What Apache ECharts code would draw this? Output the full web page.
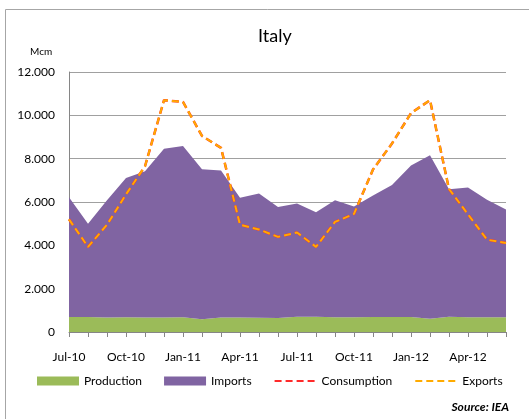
<!DOCTYPE html>
<html>
<head>
<meta charset="utf-8">
<script src="https://cdn.jsdelivr.net/npm/echarts@6/dist/echarts.min.js"></script>
<style>
html, body { margin: 0; padding: 0; background: #fff; }
#main { width: 529px; height: 419px; }
</style>
</head>
<body>
<div id="main"></div>
<script>
var months = ['Jul-10','Aug-10','Sep-10','Oct-10','Nov-10','Dec-10','Jan-11','Feb-11','Mar-11','Apr-11','May-11','Jun-11',
              'Jul-11','Aug-11','Sep-11','Oct-11','Nov-11','Dec-11','Jan-12','Feb-12','Mar-12','Apr-12','May-12','Jun-12'];

var production = [690, 690, 670, 680, 670, 670, 680, 590, 670, 670, 660, 650,
                  700, 700, 680, 680, 690, 690, 690, 610, 700, 680, 680, 680];

var imports = [5530, 4310, 5410, 6430, 6750, 7790, 7910, 6920, 6780, 5530, 5730, 5120,
               5230, 4830, 5400, 5110, 5610, 6100, 7000, 7550, 5890, 5990, 5420, 4970];

var consumption = [5200, 3930, 4950, 6350, 7650, 10700, 10620, 9050, 8500, 4950, 4730, 4390,
                   4590, 3930, 5080, 5450, 7500, 8700, 10100, 10700, 6600, 5430, 4260, 4110];

var exports = [5200, 3930, 4950, 6350, 7650, 10700, 10620, 9050, 8500, 4950, 4730, 4390,
               4590, 3930, 5080, 5450, 7500, 8700, 10100, 10700, 6600, 5430, 4260, 4110];

var font = 'Lato';

var myChart = echarts.init(document.getElementById('main'));

// y labels use a dot as thousands separator: 12.000
function fmtThousands(v) {
    if (v === 0) return '0';
    return (v / 1000).toFixed(3);
}

var option = {
    animation: false,
    textStyle: { fontFamily: font },
    title: {
        text: 'Italy',
        left: 253,
        top: 22,
        textStyle: { fontFamily: font, fontSize: 18, fontWeight: 'normal', color: '#000' }
    },
    graphic: [
        {
            type: 'rect',
            shape: { x: 5.5, y: 9.5, width: 620, height: 520 },
            style: { fill: null, stroke: '#a6a6a6', lineWidth: 1 },
            silent: true
        },
        {
            type: 'text',
            left: 30,
            top: 47,
            style: { text: 'Mcm', fontFamily: font, fontSize: 10, fill: '#000' }
        },
        {
            type: 'text',
            right: 20,
            top: 401,
            style: { text: 'Source: IEA', fontFamily: font, fontSize: 12, fontWeight: 'bold', fontStyle: 'italic', fill: '#000' }
        }
    ],
    legend: {
        left: 32,
        top: 370,
        itemWidth: 42,
        itemHeight: 9,
        itemGap: 22,
        textStyle: { fontFamily: font, fontSize: 12, color: '#000' },
        data: [
            { name: 'Production', icon: 'rect' },
            { name: 'Imports', icon: 'rect' },
            { name: 'Consumption', itemStyle: { opacity: 0 } },
            { name: 'Exports', itemStyle: { opacity: 0 } }
        ]
    },
    grid: { left: 69, right: 23, top: 72, bottom: 87 },
    xAxis: {
        type: 'category',
        data: months,
        boundaryGap: false,
        axisLine: { lineStyle: { color: '#868686', width: 1 } },
        axisTick: { show: true, interval: 0, length: 5, lineStyle: { color: '#868686' } },
        axisLabel: { interval: 2, margin: 19, fontFamily: font, fontSize: 12, color: '#000' },
        splitLine: { show: false }
    },
    yAxis: {
        type: 'value',
        min: 0,
        max: 12000,
        interval: 2000,
        axisLine: { show: true, lineStyle: { color: '#868686', width: 1 } },
        axisTick: { show: false },
        axisLabel: { margin: 14, fontFamily: font, fontSize: 12, color: '#000', formatter: fmtThousands },
        splitLine: { lineStyle: { color: '#a0a0a0', width: 1 } }
    },
    series: [
        {
            name: 'Production',
            type: 'line',
            stack: 'supply',
            data: production,
            symbol: 'none',
            color: '#9bbb59',
            lineStyle: { width: 0 },
            areaStyle: { color: '#9bbb59', opacity: 1 }
        },
        {
            name: 'Imports',
            type: 'line',
            stack: 'supply',
            data: imports,
            symbol: 'none',
            color: '#8064a2',
            lineStyle: { width: 0 },
            areaStyle: { color: '#8064a2', opacity: 1 }
        },
        {
            name: 'Consumption',
            type: 'line',
            data: consumption,
            symbol: 'none',
            color: '#ff2a2a',
            lineStyle: { color: '#ff2a2a', width: 2.5, type: [7, 4] }
        },
        {
            name: 'Exports',
            type: 'line',
            data: exports,
            symbol: 'none',
            color: '#ffab00',
            lineStyle: { color: '#ffab00', width: 2, type: [7, 4] }
        }
    ]
};

myChart.setOption(option);
</script>
</body>
</html>
